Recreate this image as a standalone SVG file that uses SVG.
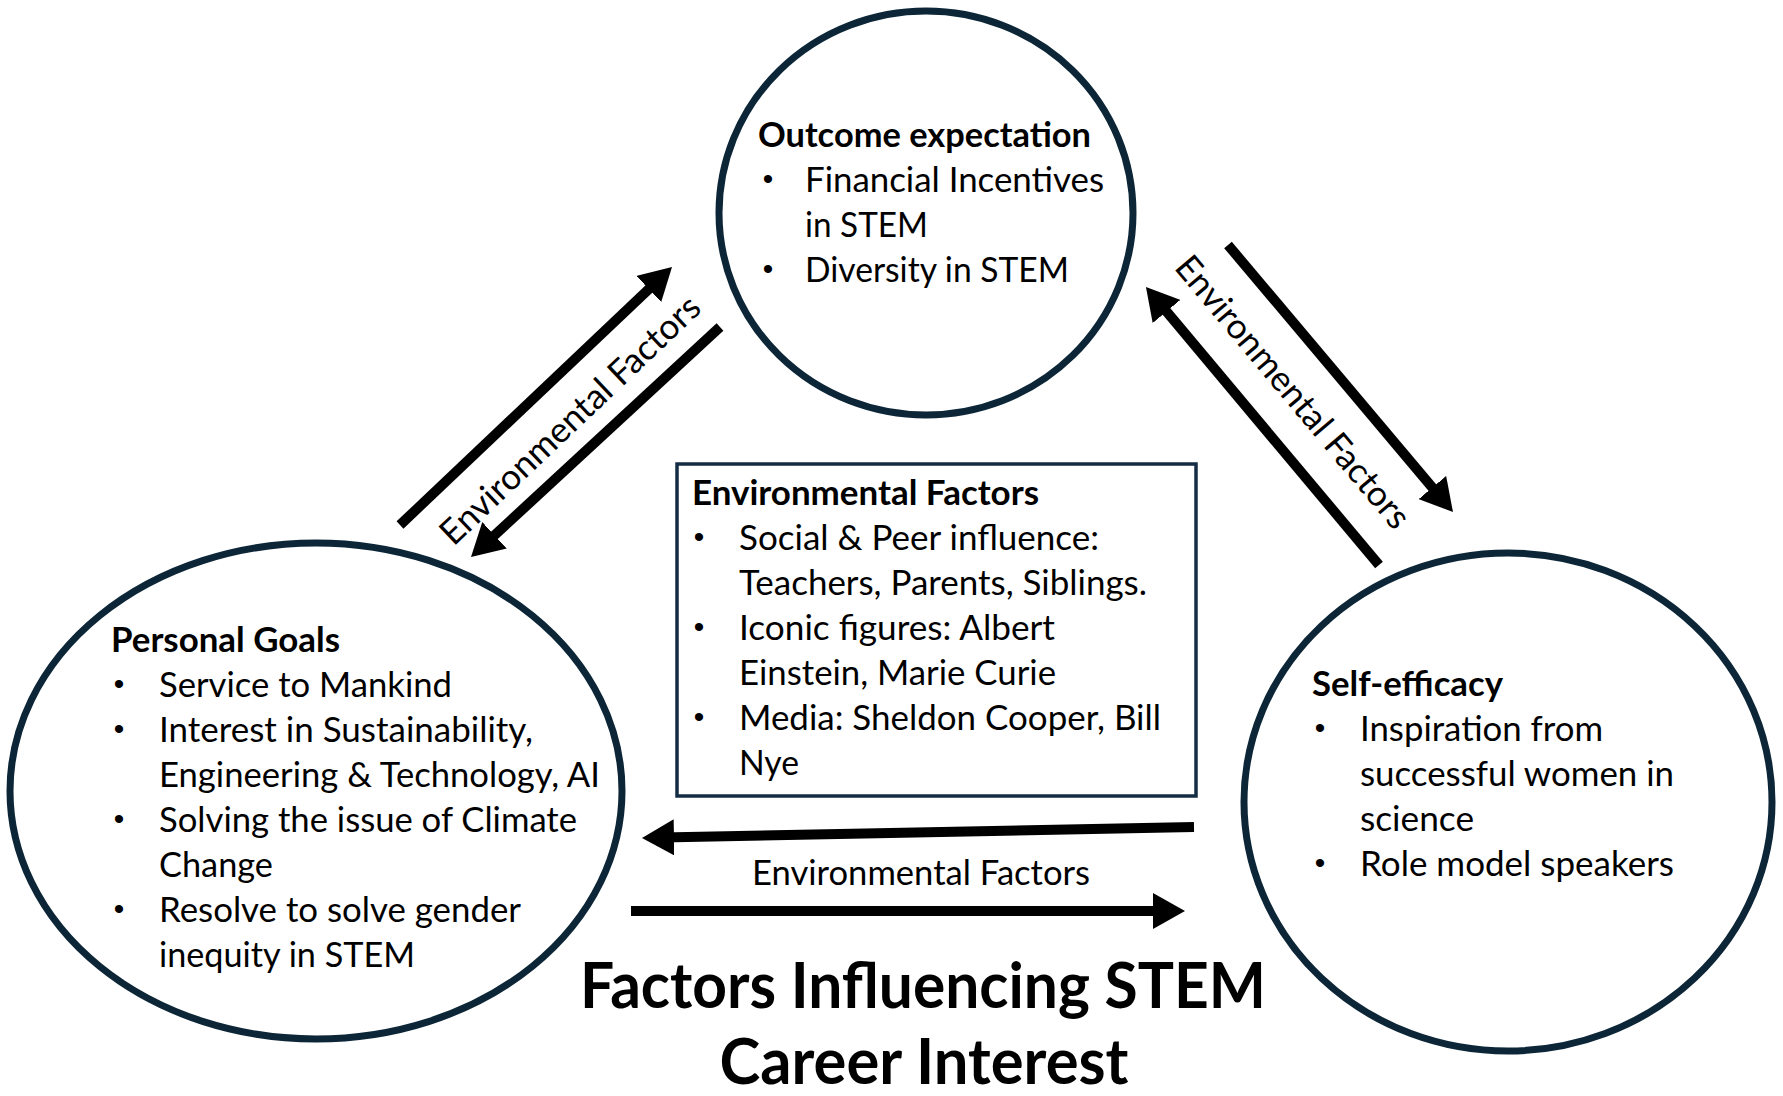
<svg xmlns="http://www.w3.org/2000/svg" width="1783" height="1096" viewBox="0 0 1783 1096">
<defs>
<style>
.t{font-family:Lato,"Open Sans","Liberation Sans",sans-serif;font-size:35px;fill:#000}
.b{font-weight:bold}
.bul{font-family:"Liberation Sans",Arial,sans-serif;font-size:30px;fill:#000;text-anchor:middle}
.node{fill:#fff;stroke:#0c2637;stroke-width:7}
.box{fill:#fff;stroke:#142c44;stroke-width:3.5}
.arr{stroke:#000;stroke-width:10;fill:none;marker-end:url(#ah)}
.title{font-family:Lato,"Open Sans","Liberation Sans",sans-serif;font-size:64px;font-weight:bold;fill:#000;text-anchor:middle}
</style>
<marker id="ah" viewBox="0 0 32 36" refX="12" refY="18" markerWidth="32" markerHeight="36" markerUnits="userSpaceOnUse" orient="auto">
<path d="M0,0 L32,18 L0,36 z" fill="#000"/>
</marker>
</defs>
<rect width="1783" height="1096" fill="#fff"/>

<g id="connectors">
<line class="arr" x1="400" y1="525" x2="657.5" y2="280.8"/>
<line class="arr" x1="720" y1="327" x2="485.7" y2="543.4"/>
<line class="arr" x1="1228" y1="245" x2="1440.1" y2="496.7"/>
<line class="arr" x1="1379" y1="565" x2="1158.8" y2="302.3"/>
<line class="arr" x1="1194" y1="827" x2="662" y2="837.6"/>
<line class="arr" x1="631" y1="911" x2="1165" y2="911"/>
<text class="t" transform="translate(570,420) rotate(-43.5)" text-anchor="middle" dy="12" textLength="344" lengthAdjust="spacingAndGlyphs">Environmental Factors</text>
<text class="t" transform="translate(1293,392) rotate(50)" text-anchor="middle" dy="12" textLength="344" lengthAdjust="spacingAndGlyphs">Environmental Factors</text>
<text class="t" x="921" y="885" text-anchor="middle" textLength="338" lengthAdjust="spacingAndGlyphs">Environmental Factors</text>
</g>

<g id="outcome-expectation">
<ellipse class="node" cx="926" cy="213" rx="207" ry="202"/>
<text class="t b" x="758" y="147" textLength="333" lengthAdjust="spacingAndGlyphs">Outcome expectation</text>
<text class="bul" x="768" y="189">•</text>
<text class="t" x="805" y="192" textLength="299" lengthAdjust="spacingAndGlyphs">Financial Incentives</text>
<text class="t" x="805" y="237" textLength="123" lengthAdjust="spacingAndGlyphs">in STEM</text>
<text class="bul" x="768" y="279">•</text>
<text class="t" x="805" y="282" textLength="264" lengthAdjust="spacingAndGlyphs">Diversity in STEM</text>
</g>

<g id="personal-goals">
<ellipse class="node" cx="316" cy="791" rx="306" ry="248"/>
<text class="t b" x="111" y="652" textLength="229" lengthAdjust="spacingAndGlyphs">Personal Goals</text>
<text class="bul" x="119" y="694">•</text>
<text class="t" x="159" y="697" textLength="293" lengthAdjust="spacingAndGlyphs">Service to Mankind</text>
<text class="bul" x="119" y="739">•</text>
<text class="t" x="159" y="742" textLength="374" lengthAdjust="spacingAndGlyphs">Interest in Sustainability,</text>
<text class="t" x="159" y="787" textLength="441" lengthAdjust="spacingAndGlyphs">Engineering &amp; Technology, AI</text>
<text class="bul" x="119" y="829">•</text>
<text class="t" x="159" y="832" textLength="418" lengthAdjust="spacingAndGlyphs">Solving the issue of Climate</text>
<text class="t" x="159" y="877" textLength="114" lengthAdjust="spacingAndGlyphs">Change</text>
<text class="bul" x="119" y="919">•</text>
<text class="t" x="159" y="922" textLength="362" lengthAdjust="spacingAndGlyphs">Resolve to solve gender</text>
<text class="t" x="159" y="967" textLength="256" lengthAdjust="spacingAndGlyphs">inequity in STEM</text>
</g>

<g id="environmental-factors">
<rect class="box" x="677" y="464" width="519" height="332"/>
<text class="t b" x="692" y="505" textLength="347" lengthAdjust="spacingAndGlyphs">Environmental Factors</text>
<text class="bul" x="699" y="547">•</text>
<text class="t" x="739" y="550" textLength="360" lengthAdjust="spacingAndGlyphs">Social &amp; Peer influence:</text>
<text class="t" x="739" y="595" textLength="408" lengthAdjust="spacingAndGlyphs">Teachers, Parents, Siblings.</text>
<text class="bul" x="699" y="637">•</text>
<text class="t" x="739" y="640" textLength="316" lengthAdjust="spacingAndGlyphs">Iconic figures: Albert</text>
<text class="t" x="739" y="685" textLength="317" lengthAdjust="spacingAndGlyphs">Einstein, Marie Curie</text>
<text class="bul" x="699" y="727">•</text>
<text class="t" x="739" y="730" textLength="422" lengthAdjust="spacingAndGlyphs">Media: Sheldon Cooper, Bill</text>
<text class="t" x="739" y="775" textLength="60" lengthAdjust="spacingAndGlyphs">Nye</text>
</g>

<g id="self-efficacy">
<ellipse class="node" cx="1508" cy="802" rx="264" ry="249"/>
<text class="t b" x="1312" y="696" textLength="191" lengthAdjust="spacingAndGlyphs">Self-efficacy</text>
<text class="bul" x="1320" y="738">•</text>
<text class="t" x="1360" y="741" textLength="243" lengthAdjust="spacingAndGlyphs">Inspiration from</text>
<text class="t" x="1360" y="786" textLength="314" lengthAdjust="spacingAndGlyphs">successful women in</text>
<text class="t" x="1360" y="831" textLength="114" lengthAdjust="spacingAndGlyphs">science</text>
<text class="bul" x="1320" y="873">•</text>
<text class="t" x="1360" y="876" textLength="314" lengthAdjust="spacingAndGlyphs">Role model speakers</text>
</g>

<g id="title">
<text class="title" x="923" y="1008" textLength="686" lengthAdjust="spacingAndGlyphs">Factors Influencing STEM</text>
<text class="title" x="924" y="1084" textLength="409" lengthAdjust="spacingAndGlyphs">Career Interest</text>
</g>
</svg>
